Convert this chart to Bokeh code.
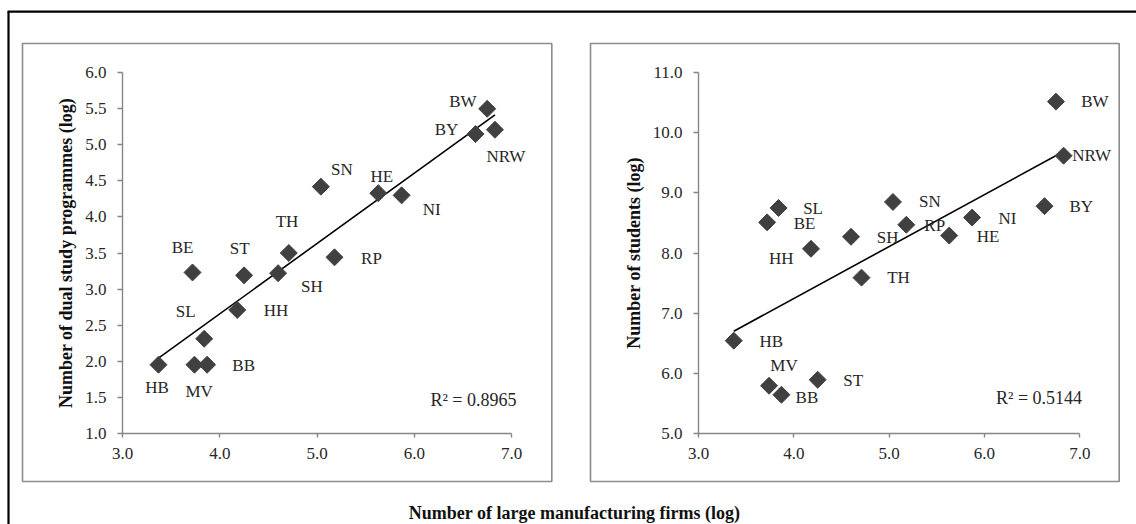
import numpy as np
from bokeh.plotting import figure
from bokeh.models import Range1d, LinearAxis, SingleIntervalTicker, PrintfTickFormatter, ColumnDataSource
from bokeh.core.properties import value
from bokeh.embed import file_html
from bokeh.resources import INLINE

# ---------------- data ----------------
states = ["HB", "MV", "BB", "SL", "HH", "BE", "ST", "SH", "TH", "RP", "SN", "HE", "NI", "BY", "BW", "NRW"]
firms = [3.37, 3.74, 3.87, 3.84, 4.18, 3.72, 4.25, 4.60, 4.71, 5.18, 5.04, 5.63, 5.87, 6.63, 6.75, 6.83]
programmes = [1.95, 1.95, 1.95, 2.31, 2.71, 3.23, 3.19, 3.22, 3.50, 3.44, 4.42, 4.33, 4.30, 5.15, 5.50, 5.21]
students = [6.54, 5.79, 5.64, 8.75, 8.07, 8.51, 5.89, 8.27, 7.59, 8.47, 8.85, 8.29, 8.59, 8.78, 10.52, 9.62]

r2_left = "R\u00b2 = 0.8965"
r2_right = "R\u00b2 = 0.5144"
x_title = "Number of large manufacturing firms (log)"
y_title_left = "Number of dual study programmes (log)"
y_title_right = "Number of students (log)"
x_bounds = (3.0, 7.0)
y_bounds_left = (1.0, 6.0)
y_bounds_right = (5.0, 11.0)

# label offsets (screen px, + is right / down)
left_dx = [-1.5, 4.7, 36.6, -18.5, 38.8, -10, -4.4, 33.7, -1.8, 37, 21, 3.6, 30, -29, -24.3, 10.9]
left_dy = [22.4, 26.8, 1, -27, 0.7, -25.4, -26.4, 13, -31.8, 0.7, -16.7, -17, 13.7, -4.7, -7.4, 26.4]
right_dx = [37.5, 15, 25.5, 34.5, -29.8, 37.5, 35.6, 36.7, 37, 28.4, 37, 38.9, 35.3, 36.7, 38.9, 28]
right_dy = [0.7, -20.7, 2.7, 1, 10, 0.7, 0.7, 0.7, 0, 0.7, 0, 0.7, 0.7, 0, 0, 0]

# ---------------- layout ----------------
W, H = 1136, 524
FONT = "Liberation Serif"
AXIS_GRAY = "#868686"
BORDER_GRAY = "#8c8c8c"
MARK = "#404040"
TXT = "#262626"


def xrange_from(px0, v0, px1, v1):
    ppu = (px1 - px0) / (v1 - v0)
    return Range1d(v0 - px0 / ppu, v0 + (W - px0) / ppu)


def yrange_from(py_low, v_low, py_high, v_high):
    ppu = (py_low - py_high) / (v_high - v_low)
    return Range1d(v_low - (H - py_low) / ppu, v_high + py_high / ppu)


p = figure(width=W, height=H, x_range=Range1d(0, W), y_range=Range1d(H, 0),
           x_axis_type=None, y_axis_type=None, toolbar_location=None,
           output_backend="svg", min_border=0)
p.outline_line_color = None
p.background_fill_color = "white"
p.border_fill_color = "white"

p.extra_x_ranges = {"lx": xrange_from(122, 3.0, 511, 7.0),
                    "rx": xrange_from(698, 3.0, 1079.3, 7.0)}
p.extra_y_ranges = {"ly": yrange_from(432.7, 1.0, 72.3, 6.0),
                    "ry": yrange_from(432.7, 5.0, 72.3, 11.0)}

# outer frame (top & left edges) and panel borders
p.segment(x0=[8, 7], y0=[11.2, 11.2], x1=[8, W], y1=[H, 11.2], line_color="black", line_width=2.2)
p.quad(left=[22, 590], right=[551.3, 1118.7], top=[43, 43], bottom=[481, 481],
       fill_color=None, line_color=BORDER_GRAY, line_width=1.6)


def style_axis(ax):
    ax.axis_line_color = AXIS_GRAY
    ax.axis_line_width = 1.4
    ax.major_tick_line_color = AXIS_GRAY
    ax.major_tick_line_width = 1.4
    ax.minor_tick_line_color = None
    ax.major_tick_in = 0
    ax.major_label_text_font = FONT
    ax.major_label_text_font_size = "17px"
    ax.major_label_text_color = TXT
    ax.axis_label_text_font = FONT
    ax.axis_label_text_font_size = "18px"
    ax.axis_label_text_font_style = "bold"
    ax.axis_label_text_color = "#111111"


def add_panel(xr, yr, ys, ybounds, yint, ytitle, dx, dy, r2, r2x, r2y):
    xa = LinearAxis(x_range_name=xr, y_range_name=yr, fixed_location=ybounds[0], bounds=x_bounds,
                    ticker=SingleIntervalTicker(interval=1.0, num_minor_ticks=0),
                    formatter=PrintfTickFormatter(format="%.1f"))
    style_axis(xa)
    xa.major_tick_out = 4
    xa.major_label_standoff = 11
    ya = LinearAxis(x_range_name=xr, y_range_name=yr, fixed_location=x_bounds[0], bounds=ybounds,
                    ticker=SingleIntervalTicker(interval=yint, num_minor_ticks=0),
                    formatter=PrintfTickFormatter(format="%.1f"), axis_label=ytitle)
    style_axis(ya)
    ya.major_tick_out = 5
    ya.major_label_standoff = 11
    ya.axis_label_standoff = 6
    p.add_layout(xa, "below")
    p.add_layout(ya, "left")

    # trend line (least squares)
    k, b = np.polyfit(firms, ys, 1)
    xs = np.array([min(firms), max(firms)])
    p.line(xs, k * xs + b, line_color="black", line_width=1.6, x_range_name=xr, y_range_name=yr)

    src = ColumnDataSource(dict(x=firms, y=ys, name=states, dx=dx, dy=dy))
    p.scatter("x", "y", source=src, marker="square", size=12, angle=np.pi / 4,
              fill_color=MARK, line_color=MARK, x_range_name=xr, y_range_name=yr)
    p.text("x", "y", text="name", x_offset="dx", y_offset="dy", source=src,
           text_font=value(FONT), text_font_size="17px", text_color=TXT,
           text_align="center", text_baseline="middle", x_range_name=xr, y_range_name=yr)
    p.text(x=[r2x], y=[r2y], text=[r2], text_font=value(FONT), text_font_size="18px",
           text_color=TXT, text_align="right", text_baseline="middle")


add_panel("lx", "ly", programmes, y_bounds_left, 0.5, y_title_left, left_dx, left_dy, r2_left, 516, 399)
add_panel("rx", "ry", students, y_bounds_right, 1.0, y_title_right, right_dx, right_dy, r2_right, 1081.6, 397.5)

p.text(x=[574], y=[512], text=[x_title], text_font=value(FONT), text_font_size="18px",
       text_font_style="bold", text_color="#111111", text_align="center", text_baseline="middle")

open("out.html", "w").write(file_html(p, INLINE))
